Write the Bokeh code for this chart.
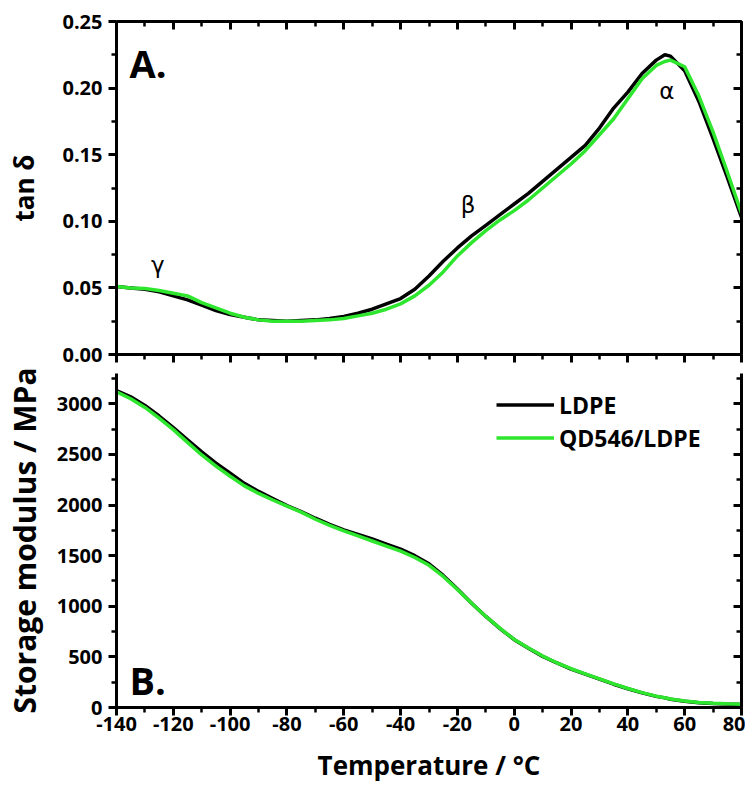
from bokeh.plotting import figure
from bokeh.layouts import column
from bokeh.models import (Range1d, LinearAxis, SingleIntervalTicker, Label,
                          Legend, LegendItem, NumeralTickFormatter, CustomJSTickFormatter)
from bokeh.embed import file_html
from bokeh.resources import INLINE

# ---------------- data ----------------
temperature = [-140, -135, -130, -125, -120, -115, -110, -105, -100, -95, -90, -85,
               -80, -75, -70, -65, -60, -55, -50, -45, -40, -35, -30, -25, -20,
               -15, -10, -5, 0, 5, 10, 15, 20, 25, 30, 35, 40, 45, 50, 53, 55,
               60, 65, 70, 75, 80]

tan_ldpe = [0.051, 0.050, 0.049, 0.047, 0.044, 0.041, 0.037, 0.033, 0.030, 0.028,
            0.026, 0.0255, 0.025, 0.0255, 0.026, 0.027, 0.0285, 0.031, 0.034, 0.038,
            0.042, 0.049, 0.059, 0.070, 0.080, 0.089, 0.097, 0.105, 0.113, 0.121,
            0.130, 0.139, 0.148, 0.157, 0.170, 0.185, 0.197, 0.211, 0.221, 0.225,
            0.224, 0.213, 0.190, 0.162, 0.133, 0.103]

tan_qd = [0.051, 0.050, 0.0495, 0.048, 0.046, 0.044, 0.039, 0.035, 0.031, 0.028,
          0.026, 0.025, 0.025, 0.025, 0.0255, 0.026, 0.027, 0.029, 0.031, 0.034,
          0.038, 0.044, 0.052, 0.062, 0.074, 0.084, 0.093, 0.101, 0.108, 0.116,
          0.125, 0.134, 0.143, 0.153, 0.165, 0.177, 0.192, 0.207, 0.217, 0.220,
          0.221, 0.216, 0.194, 0.167, 0.137, 0.106]

mod_ldpe = [3130, 3070, 2985, 2880, 2765, 2645, 2525, 2415, 2315, 2215, 2135, 2065,
            1995, 1935, 1870, 1810, 1755, 1710, 1665, 1615, 1565, 1500, 1420, 1305,
            1170, 1030, 900, 780, 670, 585, 505, 440, 380, 330, 280, 230, 185, 145,
            110, 95, 82, 62, 48, 40, 34, 30]

mod_qd = [3120, 3050, 2965, 2860, 2745, 2620, 2495, 2385, 2285, 2190, 2115, 2050,
          1990, 1930, 1860, 1800, 1745, 1695, 1645, 1595, 1545, 1482, 1405, 1295,
          1165, 1030, 900, 782, 672, 587, 508, 442, 383, 333, 283, 233, 188, 147,
          112, 97, 84, 64, 50, 42, 36, 32]

x_ticks = [-140, -120, -100, -80, -60, -40, -20, 0, 20, 40, 60, 80]
x_tick_labels = ["-140", "-120", "-100", "-80", "-60", "-40", "-20", "0", "20", "40", "60", "80"]

series_names = ["LDPE", "QD546/LDPE"]
series_colors = ["#000000", "#2ee62e"]

x_title = "Temperature / °C"
y_title_top = "tan δ"
y_title_bottom = "Storage modulus / MPa"

FONT = "Open Sans"

xr = Range1d(-140, 80)
blank = CustomJSTickFormatter(code="return ''")


def style_axis(ax, tick_in, tick_out, labels=True, size="20px"):
    ax.axis_line_width = 3
    ax.axis_line_color = "black"
    ax.major_tick_line_width = 3
    ax.minor_tick_line_width = 2.5
    ax.major_tick_in = tick_in
    ax.major_tick_out = tick_out
    ax.minor_tick_in = int(round(tick_in * 0.6))
    ax.minor_tick_out = int(round(tick_out * 0.6))
    ax.axis_label_standoff = 0
    ax.axis_label_text_font = FONT
    ax.axis_label_text_font_style = "bold"
    ax.axis_label_text_font_size = "26px"
    ax.axis_label_text_color = "black"
    if labels:
        ax.major_label_text_font = FONT
        ax.major_label_text_font_style = "bold"
        ax.major_label_text_font_size = size
        ax.major_label_text_color = "black"
        ax.major_label_standoff = 6
    else:
        ax.formatter = blank
        ax.major_label_text_font_size = "1px"
        ax.major_label_standoff = 0


# ---------------- top panel ----------------
p1 = figure(width=745, height=366, x_range=xr, y_range=Range1d(0, 0.25),
            output_backend="svg", toolbar_location=None,
            min_border_left=115, min_border_right=4, min_border_top=21, min_border_bottom=12)
p1.outline_line_color = None
p1.grid.visible = False

xt1 = SingleIntervalTicker(interval=20, num_minor_ticks=2)
yt1 = SingleIntervalTicker(interval=0.05, num_minor_ticks=2)

p1.xaxis.ticker = xt1
style_axis(p1.xaxis[0], 0, 8, labels=False)
p1.yaxis.ticker = yt1
p1.yaxis.formatter = NumeralTickFormatter(format="0.00")
style_axis(p1.yaxis[0], 0, 8)
p1.yaxis.axis_label = y_title_top
p1.yaxis.axis_label_standoff = 17

top_ax = LinearAxis(ticker=xt1)
style_axis(top_ax, 8, 0, labels=False)
p1.add_layout(top_ax, "above")
right_ax1 = LinearAxis(ticker=yt1)
style_axis(right_ax1, 8, 0, labels=False)
p1.add_layout(right_ax1, "right")

p1.line(temperature, tan_ldpe, line_color=series_colors[0], line_width=3.5)
p1.line(temperature, tan_qd, line_color=series_colors[1], line_width=3.5)

p1.add_layout(Label(x=-135.4, y=0.219, text="A.", text_font=FONT, text_font_style="bold",
                    text_font_size="38px", text_color="black", text_baseline="alphabetic"))
for sym, gx, gy in [("γ", -125.5, 0.067), ("β", -16.2, 0.112), ("α", 53.7, 0.198)]:
    p1.add_layout(Label(x=gx, y=gy, text=sym, text_font="DejaVu Sans",
                        text_font_size="23px", text_align="center", text_baseline="middle",
                        text_color="black"))

# ---------------- bottom panel ----------------
p2 = figure(width=745, height=419, x_range=xr, y_range=Range1d(0, 3300),
            output_backend="svg", toolbar_location=None,
            min_border_left=115, min_border_right=4, min_border_top=7, min_border_bottom=77)
p2.outline_line_color = None
p2.grid.visible = False

xt2 = SingleIntervalTicker(interval=20, num_minor_ticks=2)
yt2 = SingleIntervalTicker(interval=500, num_minor_ticks=2)
p2.xaxis.ticker = xt2
style_axis(p2.xaxis[0], 0, 8)
p2.xaxis.major_label_standoff = 1
p2.xaxis.major_label_overrides = {t: s for t, s in zip(x_ticks, x_tick_labels)}
p2.xaxis.axis_label = x_title
p2.xaxis.axis_label_standoff = 13
p2.yaxis.ticker = yt2
style_axis(p2.yaxis[0], 0, 8)
p2.yaxis.axis_label = y_title_bottom
p2.yaxis.axis_label_text_font_size = "30px"
p2.yaxis.axis_label_standoff = 9

right_ax2 = LinearAxis(ticker=yt2)
style_axis(right_ax2, 8, 0, labels=False)
p2.add_layout(right_ax2, "right")

r1 = p2.line(temperature, mod_ldpe, line_color=series_colors[0], line_width=3.5)
r2 = p2.line(temperature, mod_qd, line_color=series_colors[1], line_width=3.5)

p2.add_layout(Label(x=-135.4, y=276, text="B.", text_font=FONT, text_font_style="bold",
                    text_font_size="38px", text_color="black", text_baseline="alphabetic"))

legend = Legend(items=[LegendItem(label=series_names[0], renderers=[r1]),
                       LegendItem(label=series_names[1], renderers=[r2])],
                location=(380, 253), padding=0, margin=0, spacing=0,
                glyph_width=58, glyph_height=33, label_height=33, label_standoff=5,
                label_text_font=FONT, label_text_font_style="bold",
                label_text_font_size="23px", label_text_color="black",
                border_line_color=None, background_fill_alpha=0)
p2.add_layout(legend)

layout = column(p1, p2, spacing=0)
open("out.html", "w").write(file_html(layout, INLINE))
